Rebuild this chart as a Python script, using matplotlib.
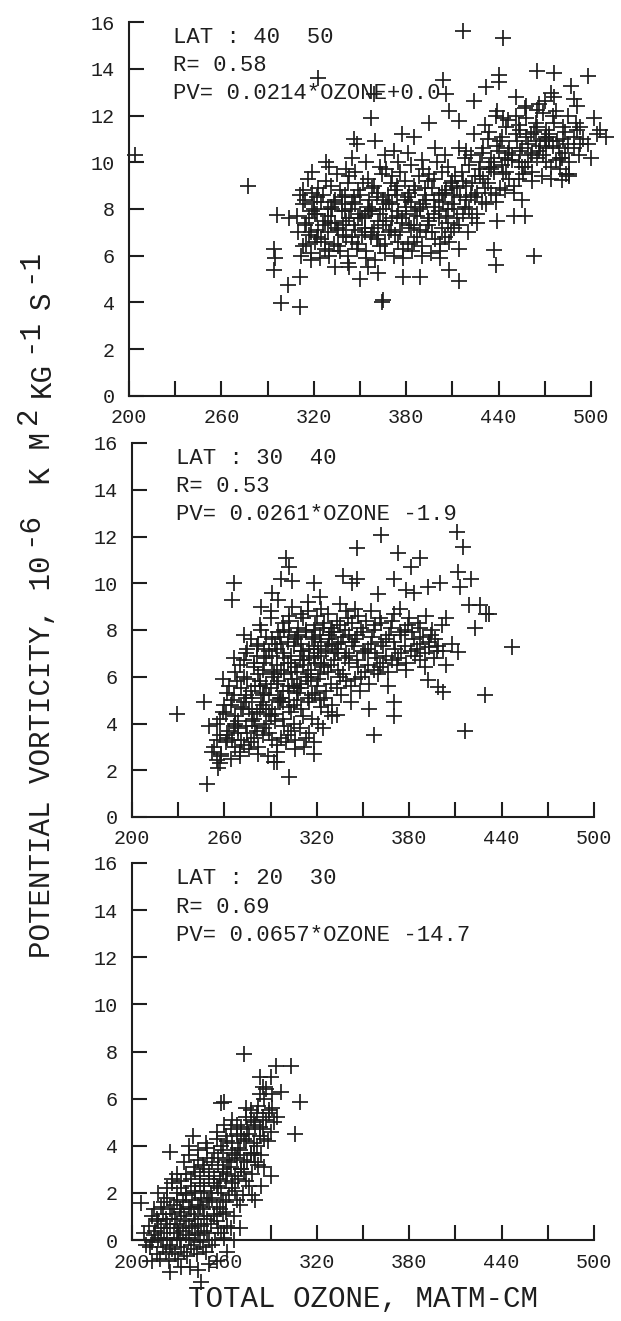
import matplotlib
matplotlib.use("Agg")
import matplotlib.pyplot as plt
from matplotlib.ticker import FixedLocator

plt.rcParams['font.family'] = ['Liberation Mono', 'DejaVu Sans Mono']

INK = '#1e1e1e'

# ---------------- Panel 1: LAT 40-50 ----------------
lat_40_50_label = ["LAT : 40  50", "R= 0.58", "PV= 0.0214*OZONE+0.0"]
out_oz_40_50 = [204, 277, 417, 443, 323, 404, 440, 440, 465, 476, 498, 487, 359, 406, 432, 424,
                451, 357, 408, 395, 414, 438, 443, 502, 510, 500, 294, 295, 294, 303, 311, 299,
                311, 365, 364, 334, 343, 350, 355, 362, 378, 389, 408, 414, 402, 437, 438, 463,
                450, 457, 455, 439, 296, 304, 313, 319, 328, 341, 346, 348, 360, 377, 385, 372,
                458, 465, 474, 476, 489, 491, 506, 489, 493, 484, 486, 481, 471, 475]
out_pv_40_50 = [10.3, 9.0, 15.6, 15.3, 13.6, 13.5, 13.75, 13.45, 13.9, 13.8, 13.7, 13.25, 12.9, 12.9,
                13.2, 12.6, 12.8, 11.9, 12.2, 11.7, 11.75, 12.0, 11.9, 11.9, 11.1, 10.2, 6.3, 5.9,
                5.4, 4.75, 5.1, 3.96, 3.8, 4.1, 4.0, 5.5, 5.5, 5.0, 5.5, 5.25, 5.1, 5.1, 5.4, 4.9,
                5.9, 6.25, 5.6, 6.0, 7.7, 7.7, 8.4, 7.5, 7.75, 7.6, 8.8, 8.7, 10.0, 9.7, 11.0, 10.8,
                10.9, 11.2, 11.1, 10.5, 12.4, 12.25, 12.97, 12.8, 12.7, 12.4, 11.4, 11.1, 10.8,
                9.5, 9.4, 9.25, 11.1, 10.7]
core_oz_40_50 = [
    [312, 315, 310, 314, 309, 313, 311],
    [318, 313, 317, 315, 319, 314, 316],
    [318, 321, 323, 317, 320, 322, 319],
    [324, 327, 322, 326, 321, 325, 323],
    [330, 325, 329, 327, 331, 326, 328, 330],
    [330, 333, 335, 329, 332, 334, 331],
    [336, 339, 334, 338, 333, 337, 335],
    [342, 337, 341, 339, 343, 338, 340, 342],
    [342, 345, 347, 341, 344, 346, 343, 345],
    [348, 351, 346, 350, 345, 349, 347],
    [354, 349, 353, 351, 355, 350, 352, 354],
    [354, 357, 359, 353, 356, 358, 355],
    [360, 363, 358, 362, 357, 361, 359, 363],
    [366, 361, 365, 363, 367, 362, 364, 366],
    [366, 369, 371, 365, 368, 370, 367],
    [372, 375, 370, 374, 369, 373, 371, 375],
    [378, 373, 377, 375, 379, 374, 376],
    [378, 381, 383, 377, 380, 382, 379, 381],
    [384, 387, 382, 386, 381, 385, 383],
    [390, 385, 389, 387, 391, 386, 388, 390],
    [390, 393, 395, 389, 392, 394, 391],
    [396, 399, 394, 398, 393, 397, 395, 399],
    [402, 397, 401, 399, 403, 398, 400],
    [402, 405, 407, 401, 404, 406, 403, 405],
    [408, 411, 406, 410, 405, 409, 407],
    [414, 409, 413, 411, 415, 410, 412, 414],
    [414, 417, 419, 413, 416, 418],
    [420, 423, 418, 422, 417, 421, 419],
    [426, 421, 425, 423, 427, 422, 424],
    [426, 429, 431, 425, 428, 430],
    [432, 435, 430, 434, 429, 433, 431],
    [438, 433, 437, 435, 439, 434],
    [438, 441, 443, 437, 440, 442, 439],
    [444, 447, 442, 446, 441, 445],
    [450, 445, 449, 447, 451, 446],
    [450, 453, 455, 449, 452, 454, 451],
    [456, 459, 454, 458, 453, 457],
    [462, 457, 461, 459, 463, 458],
    [462, 465, 467, 461, 464, 466],
    [468, 471, 466, 470, 465, 469],
    [474, 469, 473, 471, 475, 470],
    [474, 477, 479, 473, 476],
    [480, 483, 478, 482, 477],
    [486, 481, 485, 483],
    [486, 489, 491, 485],
    [492, 495, 490],
    [498, 493],
    [504],
]
core_pv_40_50 = [
    [6.0, 6.5, 7.0, 7.3, 7.7, 8.2, 8.6],
    [5.8, 6.4, 6.9, 7.4, 7.9, 8.4, 9.3],
    [6.1, 6.6, 7.1, 7.6, 8.0, 8.5, 9.6],
    [5.9, 6.3, 6.8, 7.3, 7.8, 8.3, 8.9],
    [6.2, 6.7, 7.0, 7.5, 8.1, 8.6, 9.2, 9.8],
    [6.0, 6.5, 7.2, 7.7, 8.0, 8.4, 9.0],
    [6.4, 6.9, 7.4, 7.9, 8.3, 8.8, 9.5],
    [5.7, 6.2, 6.8, 7.3, 7.6, 8.2, 8.6, 9.1],
    [6.0, 6.6, 7.1, 7.5, 8.0, 8.5, 9.4, 10.2],
    [6.3, 6.9, 7.3, 7.8, 8.3, 8.8, 9.6],
    [5.9, 6.5, 7.0, 7.6, 8.1, 8.6, 9.1, 10.0],
    [6.2, 6.8, 7.2, 7.7, 8.4, 8.9, 9.3],
    [5.8, 6.4, 7.0, 7.5, 7.9, 8.5, 9.0, 9.8],
    [6.1, 6.7, 7.3, 7.8, 8.2, 8.7, 9.5, 10.3],
    [6.5, 7.0, 7.6, 8.0, 8.6, 9.1, 9.7],
    [6.0, 6.6, 7.1, 7.7, 8.3, 8.8, 9.4, 10.0],
    [6.3, 6.9, 7.4, 7.9, 8.4, 9.0, 9.6],
    [5.9, 6.5, 7.2, 7.6, 8.1, 8.7, 9.2, 10.4],
    [6.2, 6.8, 7.3, 7.9, 8.5, 9.0, 9.9],
    [6.0, 6.6, 7.1, 7.7, 8.2, 8.8, 9.4, 10.1],
    [6.4, 7.0, 7.5, 8.0, 8.6, 9.2, 9.7],
    [6.1, 6.7, 7.3, 7.8, 8.4, 8.9, 9.5, 10.6],
    [6.5, 7.0, 7.6, 8.1, 8.7, 9.3, 10.0],
    [6.2, 6.8, 7.4, 7.9, 8.3, 8.8, 9.6, 10.3],
    [6.6, 7.2, 7.7, 8.2, 8.7, 9.1, 9.8],
    [6.3, 7.0, 7.6, 8.0, 8.5, 9.0, 9.4, 10.6],
    [7.3, 7.8, 8.4, 8.9, 9.6, 10.2],
    [7.0, 7.6, 8.1, 8.6, 9.2, 9.9, 10.5],
    [7.4, 8.0, 8.5, 9.1, 9.7, 10.3, 11.2],
    [7.8, 8.3, 8.9, 9.4, 10.0, 10.6],
    [8.2, 8.7, 9.3, 9.8, 10.4, 11.0, 11.6],
    [8.6, 9.1, 9.6, 10.2, 10.7, 11.3],
    [8.3, 8.9, 9.5, 10.0, 10.5, 11.1, 12.2],
    [8.8, 9.3, 9.9, 10.4, 10.9, 11.5],
    [9.0, 9.6, 10.1, 10.6, 11.2, 11.8],
    [8.7, 9.3, 9.8, 10.3, 10.9, 11.4, 12.0],
    [9.5, 10.0, 10.5, 11.1, 11.6, 12.3],
    [9.2, 9.8, 10.3, 10.8, 11.3, 11.9],
    [9.6, 10.2, 10.7, 11.2, 11.7, 12.5],
    [9.4, 10.0, 10.5, 11.0, 11.5, 12.1],
    [9.8, 10.3, 10.9, 11.4, 12.0, 12.6],
    [9.3, 10.1, 10.6, 11.2, 11.7],
    [9.7, 10.4, 10.9, 11.5, 12.2],
    [9.5, 10.2, 10.8, 11.3],
    [10.0, 10.6, 11.4, 12.0],
    [10.3, 11.0, 11.7],
    [10.8, 11.5],
    [11.2],
]
# extra points filling the darkest part of the 40-50 cloud
dense_oz_40_50 = [318, 322, 327, 331, 336, 340, 345, 349, 353, 358, 362, 367, 371, 376, 380, 385,
                  389, 394, 398, 403, 407, 411, 320, 329, 338, 347, 356, 365, 374, 383, 392, 401,
                  410, 419, 428, 437, 446, 455, 464, 473, 482, 426, 435, 444, 453, 462, 471, 480]
dense_pv_40_50 = [7.0, 7.8, 6.6, 7.4, 7.1, 7.9, 6.8, 7.6, 7.2, 8.0, 6.9, 7.5, 8.2, 7.0, 7.8, 7.3,
                  8.1, 7.6, 8.4, 7.2, 8.0, 8.6, 8.3, 8.0, 8.5, 8.2, 7.9, 8.4, 8.6, 8.3, 8.9, 8.6,
                  9.2, 9.0, 9.4, 9.8, 10.1, 10.6, 10.9, 11.1, 11.0, 8.7, 9.7, 10.2, 10.0, 10.4, 10.6, 10.2]

# ---------------- Panel 2: LAT 30-40 ----------------
lat_30_40_label = ["LAT : 30  40", "R= 0.53", "PV= 0.0261*OZONE -1.9"]
out_oz_30_40 = [229, 247, 249, 255, 257, 256, 266, 265, 273, 266, 273, 291, 284, 300, 302, 297,
                304, 302, 292, 294, 318, 337, 346, 343, 346, 362, 373, 381, 387, 370, 360, 357,
                333, 370, 370, 411, 415, 412, 413, 420, 400, 392, 378, 383, 419, 426, 432, 423,
                430, 404, 447, 408, 412, 404, 429, 416, 392, 399, 402, 387, 393, 398]
out_pv_30_40 = [4.42, 4.9, 1.43, 2.42, 2.3, 2.1, 10.0, 9.3, 7.8, 6.8, 6.7, 9.6, 9.0, 11.1, 10.7,
                10.2, 10.1, 1.7, 2.35, 2.35, 10.0, 10.3, 10.2, 10.0, 11.5, 12.05, 11.3, 10.7, 11.1,
                10.2, 9.55, 3.5, 4.35, 4.3, 4.9, 12.2, 11.55, 10.5, 9.85, 10.2, 10.0, 9.85, 9.7,
                9.6, 9.05, 9.05, 8.7, 8.1, 8.7, 8.5, 7.27, 7.4, 7.06, 6.5, 5.2, 3.7, 5.85, 5.56,
                5.35, 6.7, 7.27, 7.1]
core_oz_30_40 = [
    [252, 255, 250],
    [258, 253, 257, 255, 259],
    [258, 261, 263, 257, 260, 262, 259],
    [264, 267, 262, 266, 261, 265, 263, 267],
    [270, 265, 269, 267, 271, 266, 268, 270],
    [270, 273, 275, 269, 272, 274, 271, 273, 275],
    [276, 279, 274, 278, 273, 277, 275, 279, 274, 277],
    [282, 277, 281, 279, 283, 278, 280, 282, 279, 281, 283],
    [282, 285, 287, 281, 284, 286, 283, 285, 287, 282, 284],
    [288, 291, 286, 290, 285, 289, 287, 291, 286, 289, 287, 290],
    [294, 289, 293, 291, 295, 290, 292, 294, 291, 293, 295, 290],
    [294, 297, 299, 293, 296, 298, 295, 297, 299, 294, 296, 298, 295],
    [300, 303, 298, 302, 297, 301, 299, 303, 298, 301, 299, 302],
    [306, 301, 305, 303, 307, 302, 304, 306, 303, 305, 307, 302, 304],
    [306, 309, 311, 305, 308, 310, 307, 309, 311, 306, 308, 310],
    [312, 315, 310, 314, 309, 313, 311, 315, 310, 313, 311, 314],
    [318, 313, 317, 315, 319, 314, 316, 318, 315, 317, 319, 314],
    [318, 321, 323, 317, 320, 322, 319, 321, 323, 318, 320, 322],
    [324, 327, 322, 326, 321, 325, 323, 327, 322, 325, 323],
    [330, 325, 329, 327, 331, 326, 328, 330, 327],
    [330, 333, 335, 329, 332, 334, 331, 333, 335],
    [336, 339, 334, 338, 333, 337, 335, 339],
    [342, 337, 341, 339, 343, 338, 340],
    [342, 345, 347, 341, 344, 346, 343, 345],
    [348, 351, 346, 350, 345, 349, 347],
    [354, 349, 353, 351, 355, 350, 352],
    [354, 357, 359, 353, 356, 358, 355],
    [360, 363, 358, 362, 357, 361],
    [366, 361, 365, 363, 367, 362],
    [366, 369, 371, 365, 368, 370],
    [372, 375, 370, 374, 369],
    [378, 373, 377, 375, 379, 374],
    [378, 381, 383, 377, 380],
    [384, 387, 382, 386],
    [390, 385, 389, 387, 391],
    [390, 393, 395],
    [396, 399, 394],
    [402, 397, 401],
]
core_pv_30_40 = [
    [2.8, 3.3, 3.9],
    [2.6, 3.0, 3.5, 4.0, 4.5],
    [2.7, 3.2, 3.7, 4.2, 4.8, 5.3, 5.9],
    [2.5, 3.0, 3.4, 3.9, 4.4, 5.0, 5.6, 6.2],
    [2.8, 3.3, 3.8, 4.3, 4.7, 5.2, 5.8, 6.5],
    [2.6, 3.1, 3.6, 4.1, 4.6, 5.1, 5.5, 6.0, 7.2],
    [2.9, 3.4, 3.9, 4.4, 4.9, 5.4, 5.9, 6.4, 7.0, 7.6],
    [2.7, 3.2, 3.7, 4.2, 4.6, 5.1, 5.6, 6.1, 6.6, 7.3, 8.2],
    [3.0, 3.5, 4.0, 4.5, 4.9, 5.3, 5.8, 6.3, 6.8, 7.4, 8.0],
    [2.6, 3.3, 3.8, 4.3, 4.8, 5.2, 5.7, 6.2, 6.6, 7.1, 7.7, 8.5],
    [3.1, 3.6, 4.1, 4.6, 5.0, 5.5, 6.0, 6.5, 6.9, 7.4, 7.9, 8.8],
    [2.8, 3.4, 3.9, 4.4, 4.9, 5.4, 5.8, 6.3, 6.8, 7.2, 7.7, 8.3, 9.3],
    [3.2, 3.7, 4.2, 4.7, 5.1, 5.6, 6.1, 6.6, 7.0, 7.5, 8.0, 8.6],
    [2.9, 3.5, 4.0, 4.5, 5.0, 5.4, 5.9, 6.4, 6.9, 7.3, 7.8, 8.4, 9.0],
    [3.3, 3.8, 4.3, 4.8, 5.3, 5.7, 6.2, 6.7, 7.1, 7.6, 8.1, 8.7],
    [3.0, 3.6, 4.6, 5.1, 5.5, 6.0, 6.5, 6.9, 7.4, 7.9, 8.5, 9.2],
    [2.7, 3.4, 4.2, 4.9, 5.3, 5.8, 6.3, 6.8, 7.2, 7.7, 8.2, 8.8],
    [3.2, 4.0, 4.7, 5.2, 5.6, 6.1, 6.6, 7.0, 7.5, 8.0, 8.6, 9.4],
    [3.8, 4.5, 5.0, 5.4, 5.9, 6.4, 6.9, 7.3, 7.8, 8.3, 8.9],
    [4.3, 5.1, 5.7, 6.2, 6.7, 7.1, 7.6, 8.1, 8.7],
    [4.8, 5.5, 6.0, 6.5, 7.0, 7.4, 7.9, 8.4, 9.1],
    [5.2, 5.8, 6.3, 6.8, 7.2, 7.7, 8.2, 8.8],
    [5.6, 6.1, 6.6, 7.0, 7.5, 8.0, 8.5],
    [4.9, 5.9, 6.4, 6.9, 7.3, 7.8, 8.3, 8.9],
    [5.4, 6.2, 6.7, 7.1, 7.6, 8.1, 8.6],
    [4.6, 6.0, 6.5, 7.0, 7.4, 7.9, 8.4],
    [5.7, 6.3, 6.8, 7.2, 7.7, 8.2, 8.8],
    [6.1, 6.6, 7.0, 7.5, 8.0, 8.5],
    [5.6, 6.4, 6.9, 7.3, 7.8, 8.3],
    [6.2, 6.7, 7.2, 7.6, 8.1, 8.7],
    [6.5, 7.0, 7.5, 7.9, 8.4],
    [6.3, 6.8, 7.3, 7.8, 8.2, 8.9],
    [6.6, 7.1, 7.6, 8.0, 8.5],
    [6.9, 7.4, 7.9, 8.3],
    [6.4, 7.2, 7.7, 8.1, 8.6],
    [7.0, 7.5, 8.0],
    [6.8, 7.3, 7.8],
    [7.1, 7.6, 8.2],
]
# extra points filling the darkest part of the 30-40 cloud
dense_oz_30_40 = [262, 267, 271, 276, 280, 285, 289, 294, 298, 303, 307, 312, 316, 321, 325, 330,
                  264, 269, 274, 278, 283, 287, 292, 296, 301, 305, 310, 314, 319, 323, 328, 334,
                  281, 286, 291, 297, 302, 308, 313, 318, 324, 329, 336, 341]
dense_pv_30_40 = [3.5, 4.0, 3.3, 4.6, 3.9, 5.2, 4.4, 5.7, 4.9, 6.2, 5.5, 6.7, 6.0, 7.2, 6.5, 7.4,
                  4.8, 3.6, 5.2, 4.1, 5.6, 4.6, 6.1, 5.1, 6.6, 5.6, 7.1, 6.1, 7.6, 6.6, 7.8, 7.0,
                  6.9, 7.2, 7.6, 7.4, 7.9, 7.7, 8.0, 7.3, 8.1, 7.9, 7.5, 7.8]

# ---------------- Panel 3: LAT 20-30 ----------------
lat_20_30_label = ["LAT : 20  30", "R= 0.69", "PV= 0.0657*OZONE -14.7"]
out_oz_20_30 = [206, 224.5, 273, 258, 260, 283, 290.5, 293.7, 303.5, 287, 297, 309, 306, 290.5,
                280, 239.6, 245, 224.5, 232, 237.6, 243, 213, 208, 209, 262, 255, 250, 266, 270,
                284, 286, 278]
out_pv_20_30 = [1.55, 3.74, 7.9, 5.8, 5.86, 6.9, 6.9, 7.4, 7.4, 6.4, 6.3, 5.86, 4.5, 2.7, 1.7,
                4.4, -1.77, -1.34, -1.13, -1.13, -1.27, -0.9, 0.3, -0.2, -0.5, -0.9, -1.0, 0.0,
                0.5, 2.3, 3.1, 1.9]
core_oz_20_30 = [
    [212, 214, 211, 213],
    [216, 213, 215, 217, 214],
    [218, 220, 217, 219, 216, 219, 217],
    [222, 219, 221, 223, 220, 221, 223],
    [224, 226, 223, 225, 222, 225, 223, 226],
    [228, 225, 227, 229, 226, 227, 229, 226],
    [230, 232, 229, 231, 228, 231, 229, 232, 229],
    [234, 231, 233, 235, 232, 233, 235, 232, 234],
    [236, 238, 235, 237, 234, 237, 235, 238, 235, 237],
    [240, 237, 239, 241, 238, 239, 241, 238, 240, 237],
    [242, 244, 241, 243, 240, 243, 241, 244, 241, 243],
    [246, 243, 245, 247, 244, 245, 247, 244, 246, 243],
    [248, 250, 247, 249, 246, 249, 247, 250, 247, 249, 248],
    [252, 249, 251, 253, 250, 251, 253, 250, 252, 249],
    [254, 256, 253, 255, 252, 255, 253, 256, 253, 255],
    [258, 255, 257, 259, 256, 257, 259, 256, 258, 255],
    [260, 262, 259, 261, 258, 261, 259, 262, 259, 261, 260],
    [264, 261, 263, 265, 262, 263, 265, 262, 264],
    [266, 268, 265, 267, 264, 267, 265, 268, 265],
    [270, 267, 269, 271, 268, 269, 271, 268],
    [272, 274, 271, 273, 270, 273, 271, 274],
    [276, 273, 275, 277, 274, 275, 277, 274],
    [278, 280, 277, 279, 276, 279, 277],
    [282, 279, 281, 283, 280, 281, 283],
    [284, 286, 283, 285, 282, 285],
    [288, 285, 287, 289, 286],
    [290, 292, 289, 291],
    [294, 291],
]
core_pv_20_30 = [
    [-0.3, 0.2, 0.6, 1.0],
    [-0.6, -0.1, 0.4, 0.8, 1.3],
    [-0.8, -0.3, 0.1, 0.5, 0.9, 1.4, 2.0],
    [-0.5, 0.0, 0.3, 0.7, 1.1, 1.6, 2.2],
    [-0.9, -0.4, 0.1, 0.5, 0.9, 1.3, 1.8, 2.4],
    [-0.6, -0.2, 0.3, 0.7, 1.1, 1.5, 2.0, 2.6],
    [-0.8, -0.3, 0.1, 0.5, 0.9, 1.3, 1.7, 2.2, 2.8],
    [-0.5, 0.0, 0.4, 0.8, 1.2, 1.6, 2.0, 2.5, 3.3],
    [-0.7, -0.2, 0.2, 0.6, 1.0, 1.4, 1.9, 2.3, 2.8, 3.6],
    [-0.4, 0.1, 0.5, 0.9, 1.3, 1.7, 2.1, 2.6, 3.1, 4.0],
    [-0.6, -0.1, 0.3, 0.7, 1.1, 1.5, 2.0, 2.4, 2.9, 3.4],
    [-0.3, 0.2, 0.6, 1.0, 1.4, 1.8, 2.3, 2.7, 3.2, 3.8],
    [-0.5, 0.0, 0.4, 0.9, 1.3, 1.7, 2.1, 2.6, 3.0, 3.5, 4.1],
    [-0.2, 0.3, 0.7, 1.1, 1.6, 2.0, 2.4, 2.9, 3.3, 3.9],
    [0.0, 0.5, 1.0, 1.4, 1.8, 2.3, 2.7, 3.2, 3.7, 4.3],
    [0.3, 0.8, 1.3, 1.7, 2.2, 2.6, 3.0, 3.5, 4.0, 4.6],
    [0.1, 0.6, 1.1, 1.6, 2.0, 2.5, 2.9, 3.4, 3.8, 4.4, 4.9],
    [0.5, 1.2, 1.9, 2.4, 2.8, 3.3, 3.7, 4.2, 4.7],
    [1.0, 1.7, 2.2, 2.7, 3.1, 3.6, 4.1, 4.5, 5.1],
    [1.5, 2.1, 2.6, 3.0, 3.5, 3.9, 4.4, 4.9],
    [1.9, 2.5, 3.0, 3.4, 3.8, 4.3, 4.8, 5.2],
    [2.3, 2.9, 3.3, 3.7, 4.2, 4.7, 5.1, 5.6],
    [2.8, 3.3, 3.6, 4.1, 4.5, 5.0, 5.5],
    [3.2, 3.7, 4.0, 4.4, 4.9, 5.4, 6.2],
    [3.6, 4.3, 4.8, 5.2, 5.7, 6.5],
    [4.2, 4.7, 5.1, 5.5, 6.0],
    [4.6, 5.0, 5.4, 6.2],
    [5.2, 5.6],
]

x_major = [200, 260, 320, 380, 440, 500]
x_minor = [230, 290, 350, 410, 470]
y_ticks = [0, 2, 4, 6, 8, 10, 12, 14, 16]

ylab_parts = ["POTENTIAL VORTICITY, 10", "-6", " K M", "2", "KG", "-1", "S", "-1"]
ylab_super = [False, True, False, True, False, True, False, True]
xlab = "TOTAL OZONE, MATM-CM"

W, H = 621, 1321
fig = plt.figure(figsize=(W / 100, H / 100), dpi=100)

panels = [
    (129, 22, 396, lat_40_50_label, [out_oz_40_50, dense_oz_40_50], [out_pv_40_50, dense_pv_40_50],
     core_oz_40_50, core_pv_40_50),
    (132, 443, 817, lat_30_40_label, [out_oz_30_40, dense_oz_30_40], [out_pv_30_40, dense_pv_30_40],
     core_oz_30_40, core_pv_30_40),
    (132, 863, 1240, lat_20_30_label, [out_oz_20_30], [out_pv_20_30],
     core_oz_20_30, core_pv_20_30),
]

for (lpx, tpx, bpx, labels, oxs, oys, cx, cy) in panels:
    ax = fig.add_axes([lpx / W, 1 - bpx / H, 462 / W, (bpx - tpx) / H])
    xs, ys = [], []
    for a, b in zip(oxs, oys):
        xs.extend(a)
        ys.extend(b)
    for colx, coly in zip(cx, cy):
        xs.extend(colx)
        ys.extend(coly)
    ax.plot(xs, ys, linestyle='none', marker='+', markersize=11.5, markeredgewidth=1.25,
            color=INK, clip_on=False, zorder=5)
    ax.set_xlim(200, 500)
    ax.set_ylim(0, 16)
    for s in ['top', 'right']:
        ax.spines[s].set_visible(False)
    for s in ['left', 'bottom']:
        ax.spines[s].set_color(INK)
        ax.spines[s].set_linewidth(1.5)
    ax.xaxis.set_major_locator(FixedLocator(x_major))
    ax.xaxis.set_minor_locator(FixedLocator(x_minor))
    ax.set_xticklabels([str(v) for v in x_major])
    ax.set_yticks(y_ticks)
    ax.set_yticklabels([str(v) for v in y_ticks])
    ax.tick_params(axis='both', which='both', direction='in', length=11, width=1.5,
                   color=INK, labelcolor=INK, labelsize=14.5)
    ax.tick_params(axis='x', which='both', pad=9)
    ax.tick_params(axis='y', which='both', pad=10)
    ax.patch.set_alpha(0)
    for i, t in enumerate(labels):
        ax.text(0.095, 0.958 - 0.075 * i, t, transform=ax.transAxes, fontsize=16,
                color=INK, va='center', ha='left', zorder=1)
    last_ax = ax

last_ax.set_xlabel(xlab, fontsize=21, color=INK, labelpad=10)

renderer = fig.canvas.get_renderer()
ypos = (H - 958) / H
for part, sup in zip(ylab_parts, ylab_super):
    if sup:
        ypos += 9 / H
    xb = (50 - (14 if sup else 0)) / W
    t = fig.text(xb, ypos, part, rotation=90, rotation_mode='anchor', ha='left',
                 va='baseline', fontsize=21, color=INK)
    bb = t.get_window_extent(renderer)
    ypos += bb.height / H
    if sup:
        ypos += 9 / H

fig.savefig("out.png", dpi=100, facecolor='white')
